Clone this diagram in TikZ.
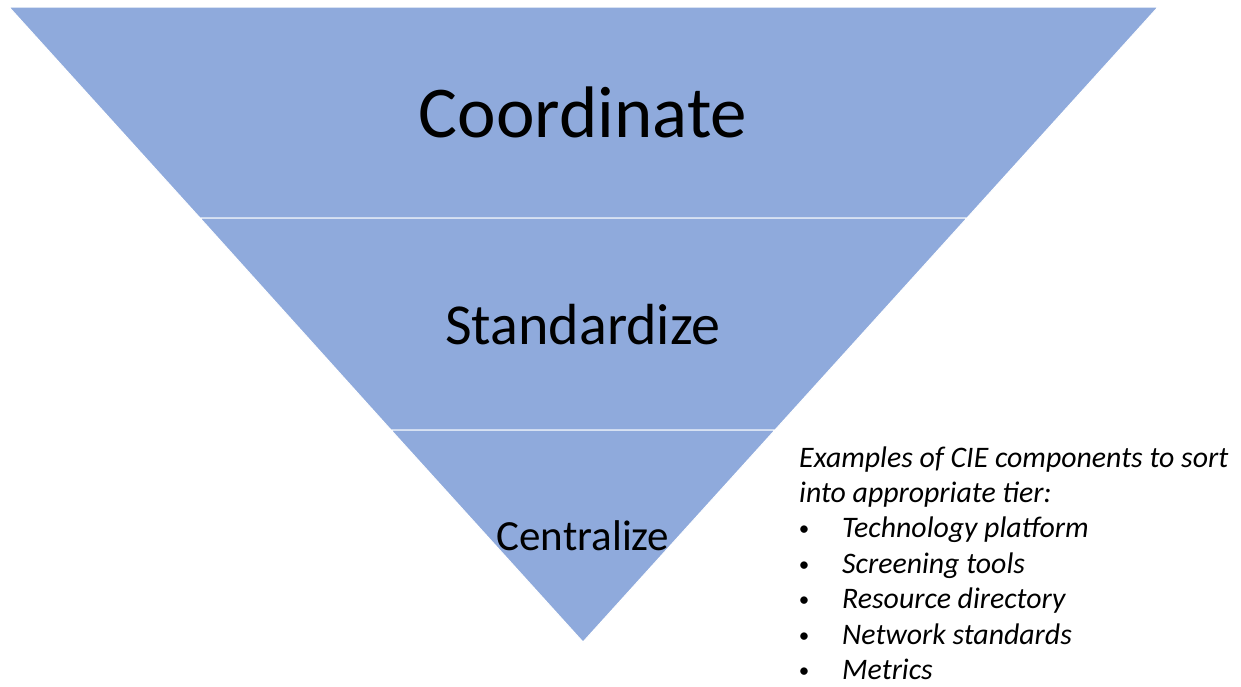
\documentclass[tikz,border=0pt]{standalone}
\usepackage{fontspec}
\setmainfont{Carlito}
\usetikzlibrary{positioning}
\definecolor{tierblue}{RGB}{143,170,220}
\tikzset{x=1pt, y=-1pt, % one unit is one pixel of the slide, y runs down
tier/.style={ % one band of the funnel
fill=tierblue,
draw=white,
line width=1pt},
tierlabel/.style={inner sep=0pt, text=black, anchor=base},
note/.style={inner sep=0pt, anchor=base west,
font=\fontsize{29.8}{35}\selectfont\itshape}}

\begin{document}
\begin{tikzpicture}
    \useasboundingbox (0,0) rectangle (1241,686);

    % corners of the three bands
    \coordinate (topL) at (9,7);
    \coordinate (topR) at (1158,7);
    \coordinate (midL) at (200,218);
    \coordinate (midR) at (967,218);
    \coordinate (lowL) at (391,430);
    \coordinate (lowR) at (775,430);
    \coordinate (apex) at (583,642);

    \draw[tier] (topL) -- (topR) -- (midR) -- (midL) -- cycle;
    \draw[tier] (midL) -- (midR) -- (lowR) -- (lowL) -- cycle;
    \draw[tier] (lowL) -- (lowR) -- (apex) -- cycle;

    \node[tierlabel, font=\fontsize{73}{80}\selectfont] (coord) at (583,137) {Coordinate};
    \node[tierlabel, font=\fontsize{58}{64}\selectfont] (stand) at (583,344) {Standardize};
    \node[tierlabel, font=\fontsize{43}{48}\selectfont] (centr) at (583,550) {Centralize};

    % list of examples beside the tip
    \node[note] (hdrA) at (799,467) {Examples of CIE components to sort};
    \node[note] (hdrB) at (799,502) {into appropriate tier:};
    \foreach \txt [count=\i] in {Technology platform, Screening tools,
        Resource directory, Network standards, Metrics} {
        \node[note] (item\i) at (842,502+35.5*\i) {\txt};
        \node[note, anchor=base, font=\fontsize{21}{35}\selectfont] (dot\i) at (804,500+35.5*\i) {\textbullet};
    }

\end{tikzpicture}
\end{document}
